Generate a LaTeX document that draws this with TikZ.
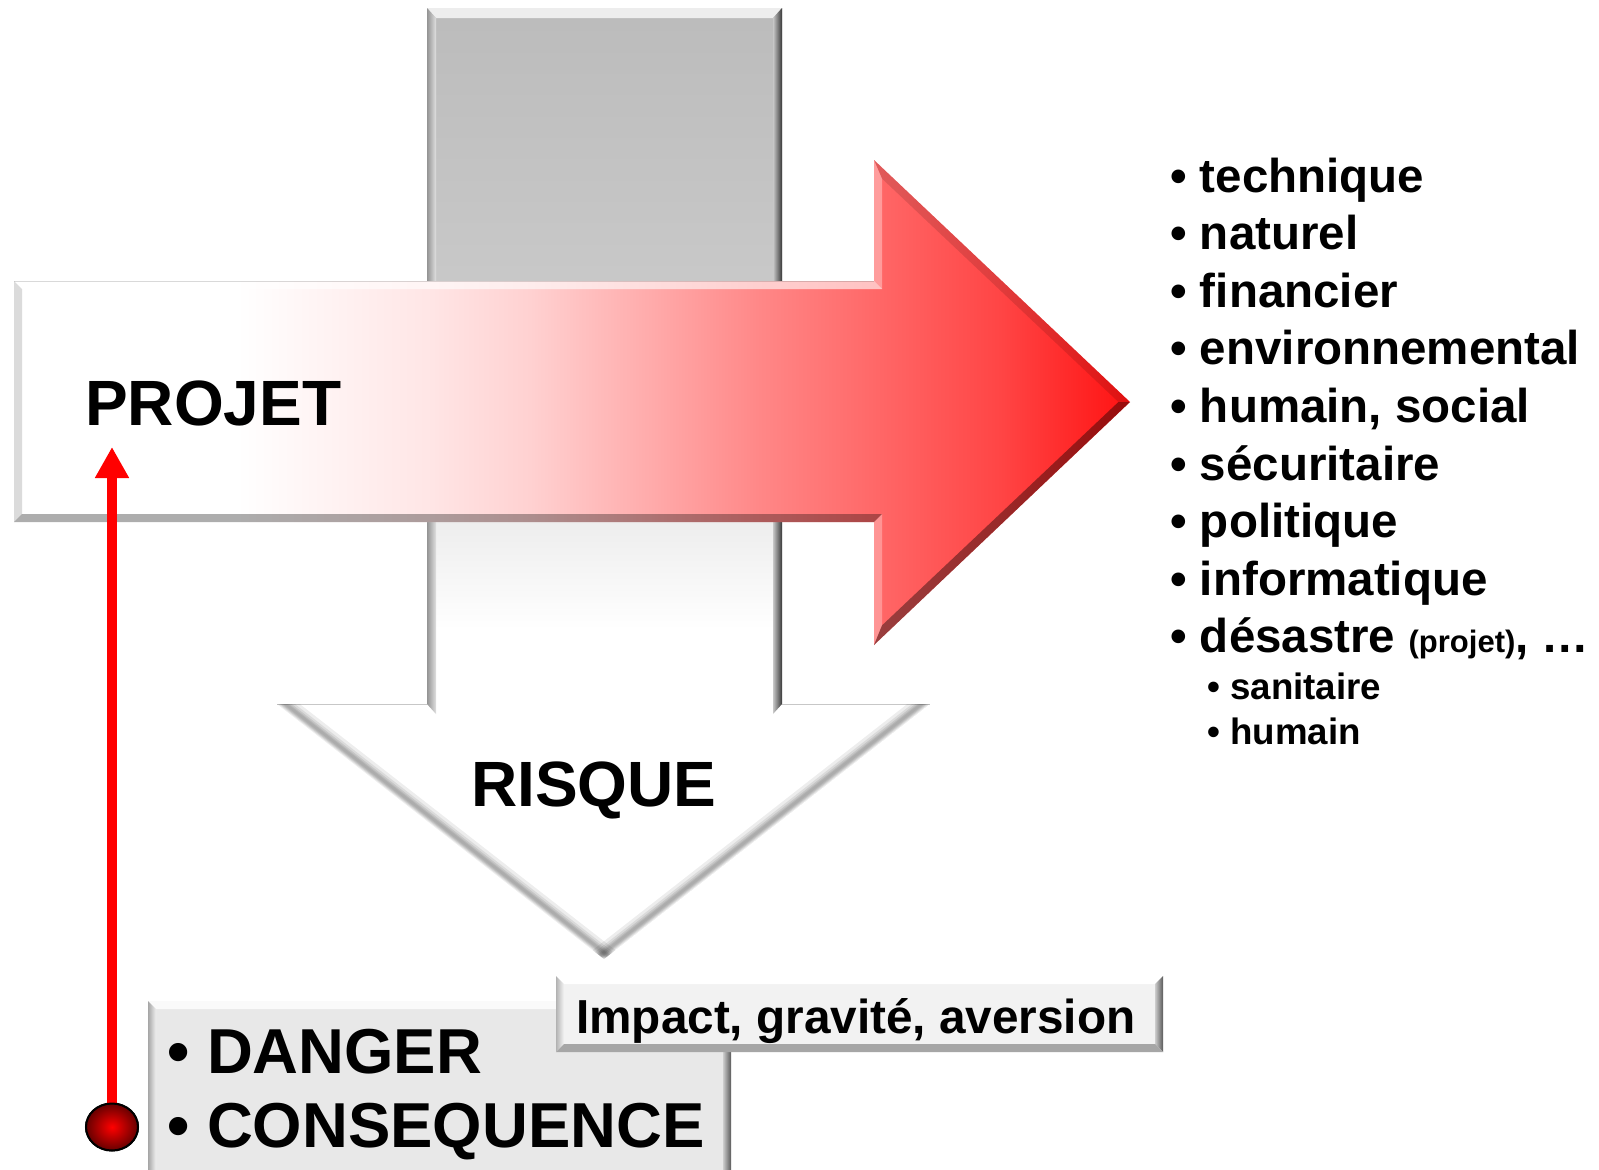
\documentclass[tikz,border=0pt]{standalone}
\usepackage{fontspec}
\setmainfont{Liberation Sans}
\usetikzlibrary{shapes.geometric,arrows.meta,calc}

% vertical fill of the grey downward arrow (top grey, bottom white)
\pgfdeclareverticalshading{downshade}{100bp}{rgb(0bp)=(1,1,1); rgb(42.3bp)=(1,1,1); rgb(48bp)=(0.93,0.93,0.93); rgb(60.7bp)=(0.785,0.785,0.785); rgb(75bp)=(0.735,0.735,0.735); rgb(100bp)=(0.735,0.735,0.735)}
% horizontal fill of the project arrow (white to red)
\pgfdeclarehorizontalshading{redshade}{100bp}{rgb(0bp)=(1,1,1); rgb(25bp)=(1,1,1); rgb(35bp)=(1,1,1); rgb(43.6bp)=(1,0.9,0.9); rgb(48.1bp)=(1,0.82,0.82); rgb(53.5bp)=(1,0.67,0.67); rgb(58.4bp)=(1,0.53,0.53); rgb(64.7bp)=(1,0.38,0.38); rgb(69.2bp)=(1,0.27,0.27); rgb(75bp)=(1,0.07,0.07); rgb(100bp)=(1,0.07,0.07)}

\tikzset{
  bigtext/.style={anchor=base west, inner sep=0pt, font=\fontsize{64}{64}\selectfont\bfseries},
  boxtext/.style={anchor=base west, inner sep=0pt, font=\fontsize{63.5}{64}\selectfont\bfseries},
  listitem/.style={anchor=base west, inner sep=0pt, font=\fontsize{47.5}{57}\selectfont\bfseries},
  subitem/.style={anchor=base west, inner sep=0pt, font=\fontsize{36.7}{44}\selectfont\bfseries},
  lightedge/.style={fill=white, fill opacity=#1},
  darkedge/.style={fill=black, fill opacity=#1},
  redball/.style={ellipse, minimum width=52pt, minimum height=47pt, inner sep=0pt,
    draw=black, line width=2pt, inner color=red, outer color=red!40!black},
}

% soft bevel band along an edge: start, end, inward unit normal, unit direction
\newcommand\softband[4]{%
  \foreach \ia/\ib/\op in {0/14/0.07, 1/11/0.08, 2/9/0.09, 3/7.5/0.08, 4/6.5/0.05} {
    \fill[black, fill opacity=\op]
      ($(#1)-20*(#4)+\ia*(#3)$) -- ($(#2)+20*(#4)+\ia*(#3)$) --
      ($(#2)+20*(#4)+\ib*(#3)$) -- ($(#1)-20*(#4)+\ib*(#3)$) -- cycle;
  }%
}

\begin{document}
\begin{tikzpicture}[x=1pt,y=-1pt]
\useasboundingbox (0,0) rectangle (1599,1170);
\fill[white] (0,0) rectangle (1599,1170);
\begin{scope}
\clip (0,0) rectangle (1599,1170);

% ---- downward arrow (RISQUE) ----
\shade[shading=downshade] (427,8) -- (782,8) -- (782,704) -- (930,704) -- (604,959) -- (277,704) -- (427,704) -- cycle;
% bevel of the shaft
\fill[lightedge=0.75] (427,8) -- (782,8) -- (773,18) -- (436,18) -- cycle;
\shade[left color=black!42, right color=black!12] (427,8) -- (436,18) -- (436,714) -- (427,704) -- cycle;
\shade[left color=black!22, right color=black!78] (782,8) -- (773,18) -- (773,714) -- (782,704) -- cycle;
% bevel of the head
\draw[black!22, line width=1.5] (277,704.5) -- (427,704.5) (782,704.5) -- (930,704.5);
\begin{scope}
  \clip (277,704) -- (930,704) -- (604,959) -- cycle;
  \softband{277,704}{604,959}{0.6149,-0.7885}{0.7885,0.6149}
  \softband{930,704}{604,959}{-0.6159,-0.7878}{-0.7878,0.6159}
\end{scope}

% ---- horizontal arrow (PROJET) ----
\shade[shading=redshade] (14,281) -- (874,281) -- (874,160) -- (1130,402) -- (874,645) -- (874,522) -- (14,522) -- cycle;
\fill[lightedge=0.6] (14,281) -- (874,281) -- (882,289) -- (22,289) -- cycle;
\draw[black, opacity=0.15, line width=1.5] (14,281.5) -- (874,281.5);
\fill[darkedge=0.14] (14,281) -- (22,289) -- (22,514) -- (14,522) -- cycle;
\fill[darkedge=0.32] (874,522) -- (14,522) -- (22,514) -- (882,514) -- cycle;
\fill[lightedge=0.35] (874,281) -- (874,160) -- (882,178.6) -- (882,289) -- cycle;
\fill[lightedge=0.3] (874,645) -- (874,522) -- (882,514) -- (882,625.4) -- cycle;
\fill[darkedge=0.12] (874,160) -- (1130,402) -- (1118.4,402) -- (882,178.6) -- cycle;
\fill[darkedge=0.4] (1130,402) -- (874,645) -- (882,625.4) -- (1118.4,402) -- cycle;

% ---- DANGER / CONSEQUENCE box ----
\fill[black!9] (148,1001) rectangle (731,1190);
\fill[white, opacity=0.8] (148,1001) -- (731,1001) -- (723,1009) -- (156,1009) -- cycle;
\shade[left color=black!35, right color=black!6] (148,1001) -- (156,1009) -- (156,1190) -- (148,1190) -- cycle;
\shade[left color=black!20, right color=black!65] (731,1001) -- (723,1009) -- (723,1190) -- (731,1190) -- cycle;

% ---- Impact box ----
\fill[black!5] (556,976) rectangle (1163,1052);
\fill[white] (556,976) -- (1163,976) -- (1155,984) -- (564,984) -- cycle;
\shade[left color=black!30, right color=black!4] (556,976) -- (564,984) -- (564,1044) -- (556,1052) -- cycle;
\shade[left color=black!20, right color=black!65] (1163,976) -- (1155,984) -- (1155,1044) -- (1163,1052) -- cycle;
\fill[black!35] (556,1052) -- (1163,1052) -- (1155,1044) -- (564,1044) -- cycle;

% ---- texts ----
\node[bigtext] (projet) at (85,425) {PROJET};
\node[bigtext] (risque) at (471,806) {RISQUE};
\node[boxtext] (danger) at (167,1073) {• DANGER};
\node[boxtext] (consequence) at (167,1147) {• CONSEQUENCE};
\node[anchor=base west, inner sep=0pt, font=\fontsize{47.7}{48}\selectfont\bfseries] (impact) at (576,1033) {Impact, gravité, aversion};

\node[listitem] (l1) at (1170,192) {• technique};
\node[listitem] (l2) at (1170,249.6) {• naturel};
\node[listitem] (l3) at (1170,307.2) {• financier};
\node[listitem] (l4) at (1170,364.8) {• environnemental};
\node[listitem] (l5) at (1170,422.4) {• humain, social};
\node[listitem] (l6) at (1170,480) {• sécuritaire};
\node[listitem] (l7) at (1170,537.6) {• politique};
\node[listitem] (l8) at (1170,595.2) {• informatique};
\node[listitem] (l9) at (1170,652.8) {• désastre {\fontsize{31}{31}\selectfont (projet)}, …};
\node[subitem] (s1) at (1207,699) {• sanitaire};
\node[subitem] (s2) at (1207,744) {• humain};

% ---- red link from the danger to the project ----
\coordinate (projtip) at (112,447);
\node[redball] (ball) at (112,1127) {};
\draw[red, line width=10pt, -{Triangle[width=32pt,length=31pt]}] (ball.north) -- (projtip);
\node[redball] at (ball) {};
\end{scope}
\end{tikzpicture}
\end{document}
